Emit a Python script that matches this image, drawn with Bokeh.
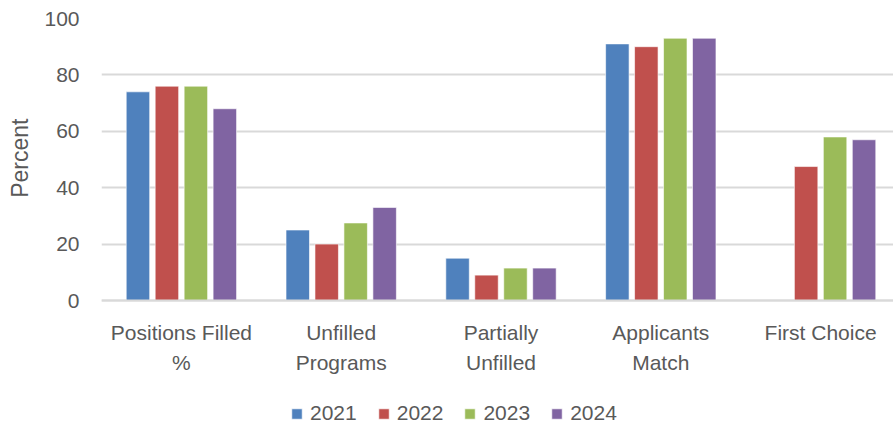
from bokeh.plotting import figure
from bokeh.models import Range1d, FixedTicker, ColumnDataSource, Legend, LegendItem, Title
from bokeh.embed import file_html
from bokeh.resources import INLINE

categories = ["Positions Filled\n%", "Unfilled\nPrograms", "Partially\nUnfilled", "Applicants\nMatch", "First Choice"]
years = ["2021", "2022", "2023", "2024"]
v2021 = [74, 25, 15, 91, float("nan")]
v2022 = [76, 20, 9, 90, 47.5]
v2023 = [76, 27.5, 11.5, 93, 58]
v2024 = [68, 33, 11.5, 93, 57]
series = [v2021, v2022, v2023, v2024]
colors = ["#4F81BD", "#C0504D", "#9BBB59", "#8064A2"]
y_ticks = [0, 20, 40, 60, 80, 100]

FONT = "Liberation Sans"
TXT = "#595959"
GRID = "#D9D9D9"

W, H = 893, 423
LEFT = 100
TOP = 18
PLOT_H = 282            # pixels from 0 to 100
GROUP_PX = 160.0
x_end = (W - LEFT) / GROUP_PX
y_start = -100.0 * (H - TOP - PLOT_H) / PLOT_H
step = 29.0 / GROUP_PX
bar_w = 23.5 / GROUP_PX

p = figure(width=W, height=H, output_backend="svg", toolbar_location=None,
           x_range=Range1d(0, x_end), y_range=Range1d(y_start, 100),
           min_border_left=LEFT, min_border_right=0, min_border_top=TOP,
           min_border_bottom=0)
p.outline_line_color = None
p.background_fill_color = "white"
p.border_fill_color = "white"

items = []
for j, (yr, vals, c) in enumerate(zip(years, series, colors)):
    xs = [i + 0.5 + (j - 1.5) * step for i in range(len(categories))]
    src = ColumnDataSource(dict(x=xs, top=vals))
    r = p.vbar(x="x", top="top", bottom=0, width=bar_w, source=src, fill_color=c,
               line_color="white", line_width=1, line_alpha=0.6)
    items.append(LegendItem(label=yr, renderers=[r]))

# x axis drawn at y = 0
p.xaxis.fixed_location = 0
p.xaxis.ticker = FixedTicker(ticks=[i + 0.5 for i in range(len(categories))])
p.xaxis.major_label_overrides = {i + 0.5: lab for i, lab in enumerate(categories)}
p.xaxis.major_tick_line_color = None
p.xaxis.minor_tick_line_color = None
p.xaxis.major_tick_out = 0
p.xaxis.major_tick_in = 0
p.xaxis.axis_line_color = GRID
p.xaxis.axis_line_width = 2
p.xaxis.major_label_text_font = FONT
p.xaxis.major_label_text_font_size = "21px"
p.xaxis.major_label_text_color = TXT
p.xaxis.major_label_text_line_height = 1.31
p.xaxis.major_label_standoff = 20

p.yaxis.ticker = FixedTicker(ticks=y_ticks)
p.yaxis.axis_line_color = None
p.yaxis.major_tick_line_color = None
p.yaxis.minor_tick_line_color = None
p.yaxis.major_tick_out = 0
p.yaxis.major_tick_in = 0
p.yaxis.major_label_text_font = FONT
p.yaxis.major_label_text_font_size = "21px"
p.yaxis.major_label_text_color = TXT
p.yaxis.major_label_standoff = 22

ytitle = Title(text="Percent", align="right", vertical_align="top", offset=100,
               standoff=13, text_font=FONT, text_font_size="23px",
               text_font_style="normal", text_color=TXT)
p.add_layout(ytitle, "left")

p.xgrid.grid_line_color = None
p.ygrid.grid_line_color = GRID
p.ygrid.grid_line_width = 2

legend = Legend(items=items, orientation="horizontal", location=(189, -2),
                glyph_width=13, glyph_height=13, label_standoff=7, spacing=20,
                label_text_font=FONT, label_text_font_size="21px",
                label_text_color=TXT, border_line_color=None,
                background_fill_alpha=0, padding=0, margin=0)
p.add_layout(legend, "center")

open("out.html", "w").write(file_html(p, INLINE))
